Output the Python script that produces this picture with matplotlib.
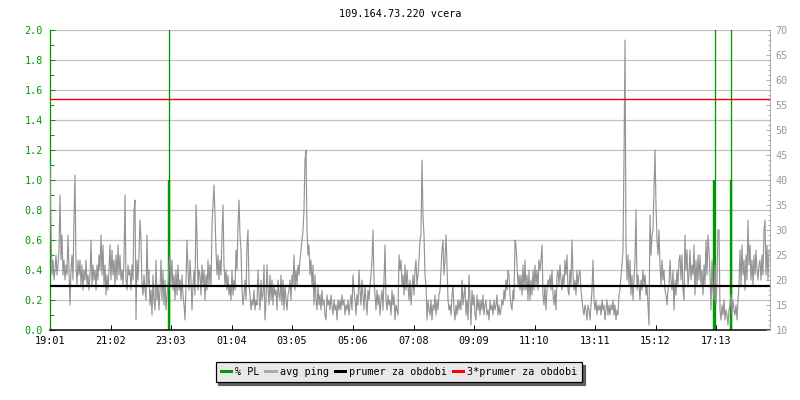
import matplotlib
matplotlib.use("Agg")
import matplotlib.pyplot as plt
from matplotlib.lines import Line2D
from matplotlib.ticker import MultipleLocator, FixedLocator, FormatStrFormatter
import numpy as np

# ---------------- data ----------------
title = "109.164.73.220 vcera"
start_time = "19:01"
tick_labels = ["19:01", "21:02", "23:03", "01:04", "03:05", "05:06",
               "07:08", "09:09", "11:10", "13:11", "15:12", "17:13"]
period_minutes = 1440
sample_step_min = 2

# avg ping [ms], one value every 2 minutes, in two-hour chunks
ping_19_21 = [43, 30, 21, 24, 20, 22, 25, 21, 23, 26, 37, 24, 29, 21, 24, 20, 23, 21, 29, 22,
              15, 22, 25, 20, 32, 41, 23, 19, 24, 21, 24, 19, 23, 18, 22, 20, 24, 19, 21, 18,
              21, 28, 19, 23, 20, 22, 18, 23, 20, 25, 22, 29, 21, 27, 19, 23, 17, 21, 18, 22]
ping_21_23 = [27, 20, 26, 21, 24, 19, 25, 20, 27, 21, 25, 20, 22, 19, 24, 37, 20, 18, 23, 21,
              22, 18, 23, 20, 34, 36, 12, 24, 20, 25, 32, 28, 19, 17, 21, 18, 16, 29, 19, 22,
              15, 18, 13, 21, 16, 14, 24, 16, 19, 14, 18, 24, 16, 22, 15, 20, 14, 17, 19, 23]
ping_23_01 = [25, 19, 24, 18, 21, 16, 22, 17, 23, 18, 20, 16, 21, 17, 15, 12, 19, 28, 22, 18,
              24, 20, 14, 19, 22, 17, 35, 29, 18, 22, 21, 17, 23, 19, 22, 16, 21, 18, 24, 19,
              23, 19, 31, 35, 39, 33, 26, 21, 25, 20, 24, 21, 29, 35, 23, 19, 22, 18, 21, 17]
ping_01_03 = [19, 16, 22, 17, 20, 18, 26, 22, 31, 36, 29, 26, 18, 15, 17, 20, 16, 27, 30, 19,
              17, 14, 16, 15, 18, 14, 16, 15, 22, 17, 14, 20, 16, 17, 23, 12, 16, 23, 18, 15,
              21, 16, 20, 15, 19, 17, 18, 14, 20, 17, 16, 21, 15, 20, 14, 19, 16, 14, 17, 18]
ping_03_05 = [20, 16, 21, 19, 25, 18, 22, 19, 23, 21, 24, 26, 28, 30, 34, 44, 46, 30, 25, 27,
              21, 24, 19, 23, 15, 21, 16, 14, 19, 15, 17, 14, 18, 15, 16, 13, 12, 17, 15, 16,
              14, 17, 15, 13, 16, 14, 15, 12, 16, 14, 16, 14, 17, 15, 16, 13, 15, 14, 16, 13]
ping_05_07 = [15, 17, 14, 21, 18, 16, 13, 17, 15, 22, 18, 15, 20, 17, 14, 19, 16, 13, 18, 16,
              19, 21, 24, 30, 20, 17, 14, 18, 15, 17, 13, 16, 18, 14, 20, 27, 16, 14, 17, 15,
              16, 13, 18, 15, 17, 12, 15, 14, 13, 25, 22, 24, 19, 21, 17, 23, 18, 22, 19, 16]
ping_07_09 = [20, 15, 18, 21, 17, 22, 24, 19, 21, 24, 28, 29, 44, 33, 29, 21, 19, 12, 16, 14,
              13, 16, 12, 15, 14, 17, 13, 16, 14, 17, 18, 22, 26, 28, 21, 24, 29, 23, 16, 14,
              15, 13, 17, 19, 14, 12, 15, 13, 16, 14, 16, 14, 20, 15, 17, 19, 13, 16, 12, 21]
ping_09_11 = [16, 11, 18, 15, 17, 13, 12, 17, 14, 16, 13, 16, 14, 17, 13, 15, 16, 13, 14, 12,
              16, 14, 15, 13, 16, 14, 15, 17, 13, 15, 13, 14, 16, 15, 18, 16, 20, 18, 22, 21,
              17, 15, 14, 18, 16, 28, 27, 23, 19, 21, 18, 21, 17, 23, 18, 24, 18, 21, 16, 22]
ping_11_13 = [16, 20, 17, 22, 18, 23, 19, 22, 18, 24, 22, 24, 27, 17, 15, 19, 14, 18, 20, 19,
              21, 18, 22, 17, 15, 18, 14, 21, 22, 19, 23, 20, 18, 21, 19, 24, 21, 25, 18, 17,
              22, 19, 28, 21, 18, 20, 17, 22, 19, 21, 22, 18, 16, 14, 13, 15, 14, 12, 15, 14]
ping_13_15 = [12, 15, 18, 24, 16, 14, 16, 13, 15, 14, 15, 13, 16, 14, 15, 12, 14, 16, 13, 15,
              13, 15, 14, 16, 13, 15, 12, 14, 13, 17, 18, 21, 23, 26, 44, 68, 27, 20, 25, 19,
              24, 17, 21, 16, 20, 24, 34, 18, 21, 19, 16, 20, 18, 22, 19, 21, 17, 19, 15, 11]
ping_15_17 = [33, 25, 29, 30, 38, 46, 35, 28, 25, 30, 23, 19, 24, 20, 22, 18, 17, 15, 18, 19,
              24, 20, 18, 22, 14, 20, 17, 22, 19, 24, 25, 20, 25, 18, 16, 29, 22, 26, 19, 21,
              26, 20, 23, 21, 27, 17, 24, 19, 25, 20, 25, 19, 22, 17, 23, 19, 28, 21, 29, 26]
ping_17_19 = [21, 14, 24, 18, 16, 23, 15, 20, 30, 30, 14, 12, 15, 13, 16, 12, 14, 13, 11, 14,
              15, 17, 13, 16, 14, 13, 15, 12, 16, 19, 26, 19, 27, 21, 24, 18, 25, 20, 32, 23,
              27, 20, 24, 19, 25, 21, 26, 22, 20, 23, 24, 20, 25, 21, 30, 32, 21, 27, 20, 26]

# packet loss [%] (values above 2 are off the scale)
pl_minutes = [237, 238, 1328, 1329, 1361, 1362]
pl_percent = [5.0, 1.0, 1.0, 5.0, 1.0, 5.0]

period_avg_ms = 18.75

legend_labels = ["% PL", "avg ping", "prumer za obdobi", "3*prumer za obdobi"]

# ---------------- style ----------------
PX = 72 / 100.0
GREEN = "#009a00"
GRAY = "#999999"
FONT = "DejaVu Sans Mono"
FS = 7.3

avg_ping_ms = (ping_19_21 + ping_21_23 + ping_23_01 + ping_01_03 + ping_03_05 + ping_05_07 +
               ping_07_09 + ping_09_11 + ping_11_13 + ping_13_15 + ping_15_17 + ping_17_19)
t = np.arange(len(avg_ping_ms)) * sample_step_min


def minutes_from_start(label):
    h, m = map(int, label.split(":"))
    h0, m0 = map(int, start_time.split(":"))
    return ((h * 60 + m) - (h0 * 60 + m0)) % 1440


tick_pos = [minutes_from_start(l) for l in tick_labels]

fig = plt.figure(figsize=(8, 4), dpi=100)
fig.patch.set_facecolor("white")
ax = fig.add_axes([50 / 800, 70 / 400, 720 / 800, 300 / 400])
ax2 = ax.twinx()

# left axis: packet loss
for tm, v in zip(pl_minutes, pl_percent):
    ax.vlines(tm, 0, v, color=GREEN, lw=(1.3 if v > 1 else 2.4) * PX)
ax.set_xlim(0, period_minutes)
ax.set_ylim(0, 2)
ax.yaxis.set_major_locator(MultipleLocator(0.2))
ax.yaxis.set_minor_locator(MultipleLocator(0.1))
ax.yaxis.set_major_formatter(FormatStrFormatter("%.1f"))
ax.yaxis.grid(True, which="major", color="#c0c0c0", lw=1.2 * PX)
ax.set_axisbelow(True)
ax.xaxis.set_major_locator(FixedLocator(tick_pos))
ax.set_xticklabels(tick_labels)
ax.tick_params(axis="y", which="major", direction="in", length=5 * PX, width=1 * PX,
               color=GREEN, labelcolor=GREEN, labelsize=FS, pad=5)
ax.tick_params(axis="y", which="minor", direction="in", length=4 * PX, width=1 * PX, color=GREEN)
ax.tick_params(axis="x", which="major", direction="in", length=5 * PX, width=1 * PX,
               color="black", labelcolor="black", labelsize=FS, pad=4)
for lab in ax.get_xticklabels() + ax.get_yticklabels():
    lab.set_family(FONT)
ax.spines["left"].set_color(GREEN)
ax.spines["left"].set_linewidth(1.3 * PX)
ax.spines["bottom"].set_color("black")
ax.spines["bottom"].set_linewidth(1.5 * PX)
ax.spines["top"].set_visible(False)
ax.spines["right"].set_visible(False)

# right axis: ping
ax2.plot(t, avg_ping_ms, color="#949494", lw=1.15 * PX)
ax2.axhline(period_avg_ms, color="black", lw=2.2 * PX)
ax2.axhline(3 * period_avg_ms, color="#ff0000", lw=1.4 * PX)
ax2.set_ylim(10, 70)
ax2.yaxis.set_major_locator(MultipleLocator(5))
ax2.yaxis.set_minor_locator(MultipleLocator(1))
ax2.tick_params(axis="y", which="major", direction="in", length=4 * PX, width=1 * PX,
                color="#aaaaaa", labelcolor=GRAY, labelsize=FS, pad=4)
ax2.tick_params(axis="y", which="minor", direction="in", length=2 * PX, width=1 * PX, color="#aaaaaa")
for lab in ax2.get_yticklabels():
    lab.set_family(FONT)
for s in ("left", "top", "bottom"):
    ax2.spines[s].set_visible(False)
ax2.spines["right"].set_color("#aaaaaa")
ax2.spines["right"].set_linewidth(1 * PX)

fig.text(0.5, 1 - 14 / 400, title, ha="center", va="center", family=FONT, size=FS, color="black")

handles = [Line2D([], [], color=GREEN, lw=3 * PX),
           Line2D([], [], color="#aaaaaa", lw=3 * PX),
           Line2D([], [], color="black", lw=3 * PX),
           Line2D([], [], color="#ff0000", lw=3 * PX)]
leg = fig.legend(handles, legend_labels, loc="center", bbox_to_anchor=(399 / 800, 1 - 372 / 400),
                 ncol=4, frameon=True, fancybox=False,
                 shadow={"color": "#606060", "alpha": 1},
                 facecolor="#e8e8e8", edgecolor="black", framealpha=1,
                 prop={"family": FONT, "size": FS},
                 handlelength=1.0, handletextpad=0.4, columnspacing=0.6, borderpad=0.5)
leg.get_frame().set_linewidth(1.2 * PX)

fig.savefig("out.png", dpi=100)
